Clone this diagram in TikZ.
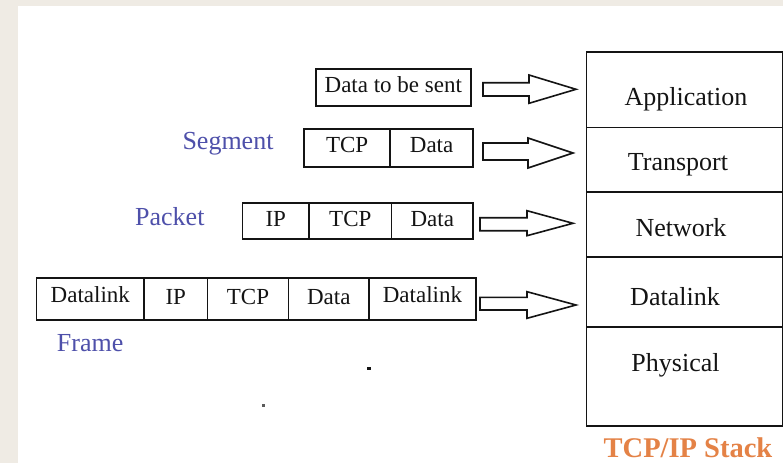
\documentclass[tikz,border=0pt]{standalone}
\usepackage{fontspec}
\setmainfont{Liberation Serif}
\definecolor{bgbeige}{RGB}{239,235,228}
\definecolor{lblblue}{RGB}{78,80,170}
\definecolor{stackorange}{RGB}{228,130,70}
\definecolor{ink}{RGB}{20,20,20}
\begin{document}
\begin{tikzpicture}[x=1pt,y=-1pt,
  cell/.style={draw=ink,line width=1.6pt,inner sep=0pt,anchor=north west,
    font=\fontsize{23}{25}\selectfont,text=ink,text height=14pt,text depth=4pt},
  dlcell/.style={cell,text height=14pt,text depth=7pt},
  layer/.style={draw=ink,line width=1.6pt,inner sep=0pt,anchor=north west,minimum width=196pt},
  layertext/.style={anchor=base,font=\fontsize{26}{28}\selectfont,text=ink,inner sep=0pt},
  pdulabel/.style={anchor=base west,font=\fontsize{26}{28}\selectfont,text=lblblue,inner sep=0pt},
  blockarrow/.style={draw=ink,line width=1.6pt,fill=white,line join=miter}]
\useasboundingbox (0,0) rectangle (783,463);
\fill[bgbeige] (0,0) rectangle (783,463);
\fill[white] (18,6) rectangle (783,463);

% TCP/IP stack
\node[layer,minimum height=75.7pt] (app) at (585.7,51) {};
\node[layer,minimum height=64.3pt] (trans) at (585.7,126.7) {};
\node[layer,minimum height=65pt] (net) at (585.7,191) {};
\node[layer,minimum height=70pt] (dl) at (585.7,256) {};
\node[layer,minimum height=99pt] (phy) at (585.7,326) {};
\node[layertext] (tapp) at (686,105) {Application};
\node[layertext] (ttrans) at (678,170.7) {Transport};
\node[layertext] (tnet) at (681,236.7) {Network};
\node[layertext] (tdl) at (675,305) {Datalink};
\node[layertext] (tphy) at (675.5,371) {Physical};
\node[anchor=base,font=\bfseries\fontsize{28.5}{30}\selectfont,text=stackorange,inner sep=0pt] (stacklbl) at (688,457) {TCP/IP Stack};

% Row 1: data
\node[cell,minimum width=155pt,minimum height=36.7pt] (d1) at (315,68.3) {Data to be sent};

% Row 2: segment
\node[cell,minimum width=86pt,minimum height=37.7pt] (s1) at (303.3,128.3) {TCP};
\node[cell,minimum width=83pt,minimum height=37.7pt] (s2) at (389.3,128.3) {Data};
\node[pdulabel] (segl) at (182.3,149.3) {Segment};

% Row 3: packet
\node[cell,minimum width=66.6pt,minimum height=36pt] (p1) at (241.7,202.3) {IP};
\node[cell,minimum width=82.4pt,minimum height=36pt] (p2) at (308.3,202.3) {TCP};
\node[cell,minimum width=81.6pt,minimum height=36pt] (p3) at (390.7,202.3) {Data};
\node[pdulabel] (pktl) at (135,225) {Packet};

% Row 4: frame
\node[dlcell,minimum width=107.6pt,minimum height=42pt] (f1) at (35.7,277.3) {Datalink};
\node[cell,minimum width=63.4pt,minimum height=42pt] (f2) at (143.3,277.3) {IP};
\node[cell,minimum width=81pt,minimum height=42pt] (f3) at (206.7,277.3) {TCP};
\node[cell,minimum width=80.6pt,minimum height=42pt] (f4) at (287.7,277.3) {Data};
\node[dlcell,minimum width=106.7pt,minimum height=42pt] (f5) at (368.3,277.3) {Datalink};
\node[pdulabel] (frml) at (56.7,351.7) {Frame};

% Block arrows
\foreach \sx/\st/\sb/\hx/\ht/\hb/\tx/\ty in {
  483/82.7/96/529/75/103.3/576/89.3,
  483/143/160/528/138/168/573/153,
  480/217.7/230.7/527/210.7/235.7/573/223.3,
  480/297.3/310/527/291.7/318.3/576/305}{
  \draw[blockarrow] (\sx,\st) -- (\hx,\st) -- (\hx,\ht) -- (\tx,\ty) -- (\hx,\hb) -- (\hx,\sb) -- (\sx,\sb) -- cycle;
}

% stray specks
\fill[ink] (367,367) rectangle (371,369.5);
\fill[ink!70] (262,404) rectangle (264.5,406.5);
\end{tikzpicture}
\end{document}
